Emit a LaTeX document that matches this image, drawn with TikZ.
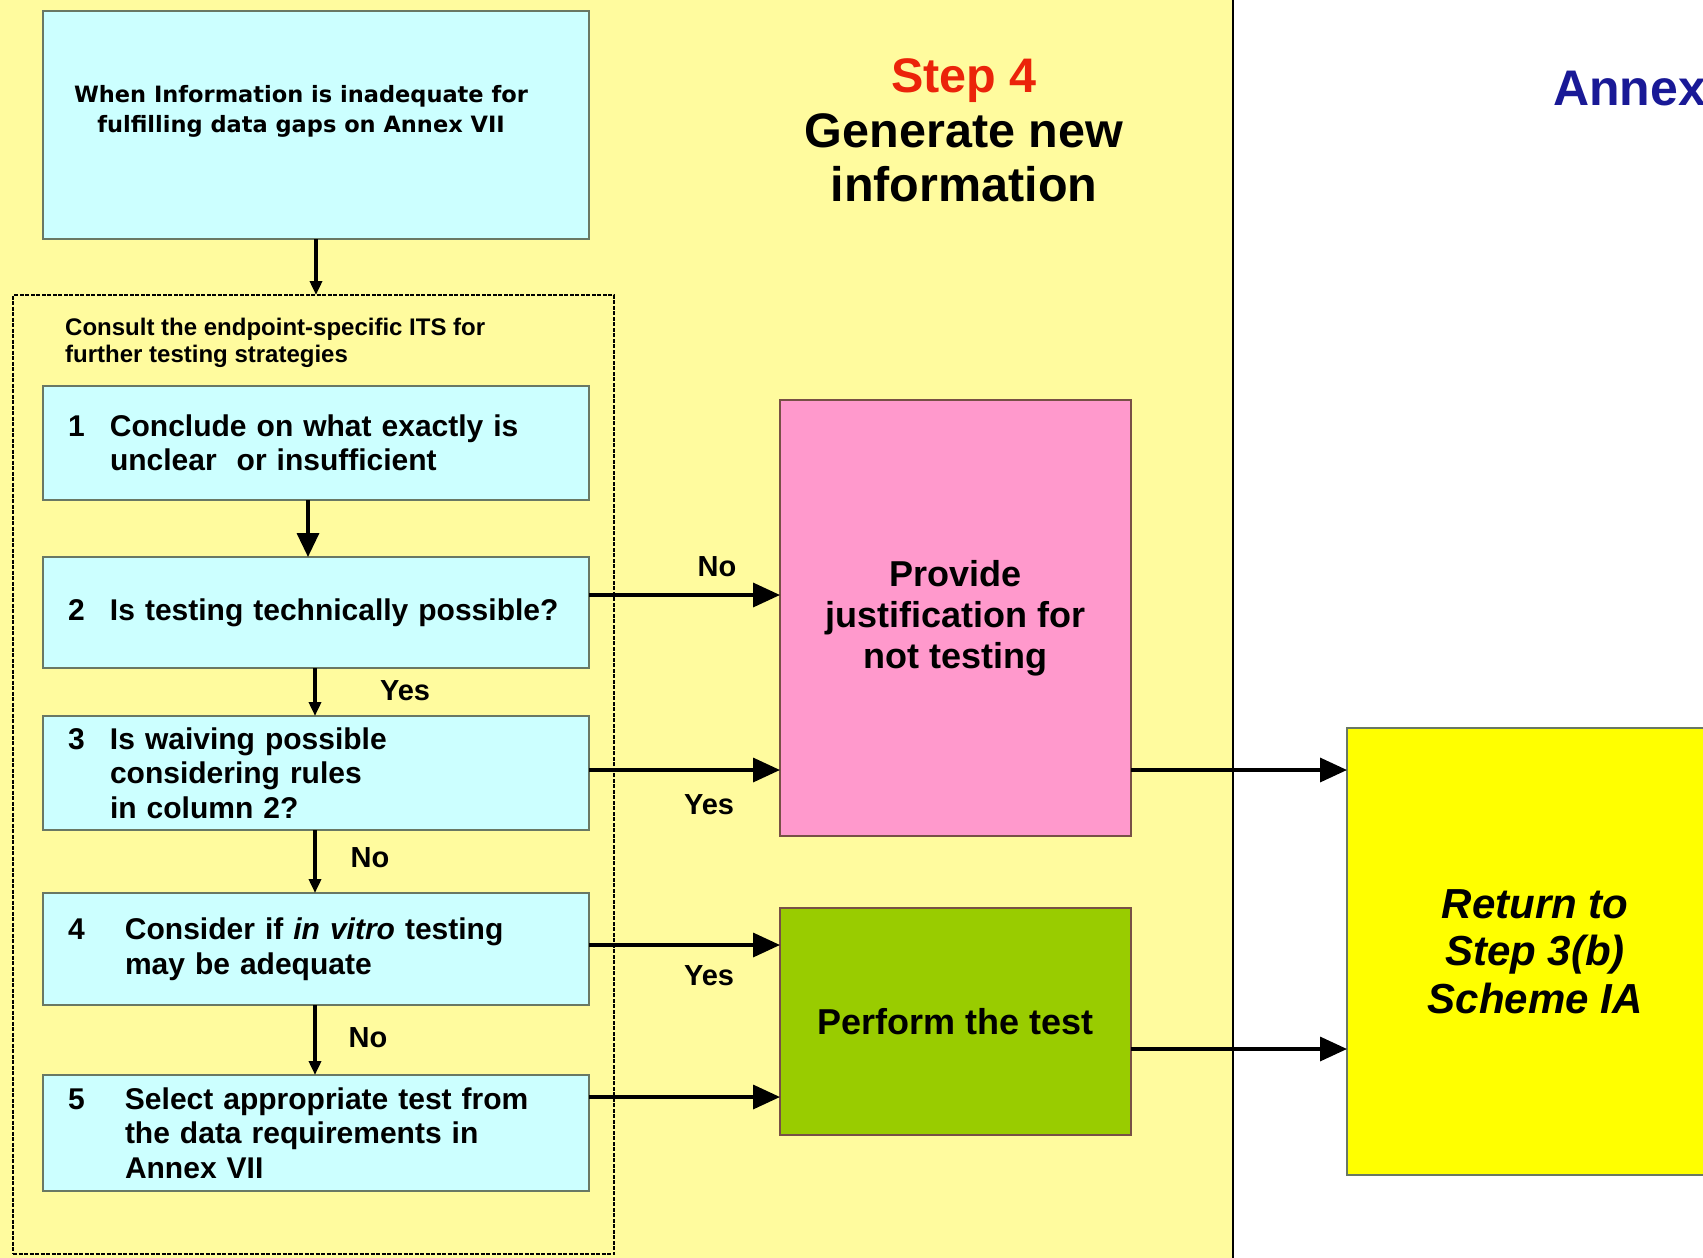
\documentclass[tikz,border=0pt]{standalone}
\usepackage{fontspec}
\setmainfont{Liberation Sans}
\newfontfamily\djv{DejaVu Sans}
\usetikzlibrary{arrows.meta,calc}

\definecolor{bgy}{RGB}{255,251,158}
\definecolor{cyanb}{RGB}{204,255,255}
\definecolor{pinkb}{RGB}{255,153,204}
\definecolor{greenb}{RGB}{153,204,0}
\definecolor{yelb}{RGB}{255,255,0}
\definecolor{redt}{RGB}{235,35,10}
\definecolor{bluet}{RGB}{25,25,150}
\definecolor{edgeb}{RGB}{105,120,100}
\definecolor{edgep}{RGB}{120,80,70}

\newcommand\fsBox{\fontsize{30}{34.5}\selectfont\bfseries}
\newcommand\fsTop{\djv\fontsize{22.5}{30}\selectfont\bfseries}
\newcommand\fsCons{\fontsize{24}{27}\selectfont\bfseries}
\newcommand\fsMid{\fontsize{36}{41}\selectfont\bfseries}
\newcommand\fsRet{\fontsize{42}{47.5}\selectfont\bfseries\itshape}
\newcommand\fsBig{\fontsize{48.5}{54.5}\selectfont\bfseries}
\newcommand\fsAnx{\fontsize{50}{54.5}\selectfont\bfseries}
\newcommand\fsLab{\fontsize{29}{34}\selectfont\bfseries}

\tikzset{
  cbox/.style={draw=edgeb, line width=2pt, fill=cyanb, inner ysep=0pt, inner xsep=25pt, outer sep=0pt,
    minimum width=546pt, text width=496pt, align=left, font=\fsBox},
  bigbox/.style={line width=2pt, outer sep=0pt, inner sep=0pt, align=center},
  lab/.style={font=\fsLab, inner sep=0pt},
  arrbig/.style={line width=3.5pt, -{Triangle[length=27pt,width=24pt]}},
  arrmid/.style={line width=3.5pt, -{Triangle[length=24pt,width=22pt]}},
  arrsm/.style={line width=3.5pt, -{Triangle[length=14pt,width=12pt]}},
}

\begin{document}
\begin{tikzpicture}[x=1pt,y=-1pt]
\useasboundingbox (0,0) rectangle (1703,1258);
\fill[white] (0,0) rectangle (1703,1258);
\fill[bgy] (0,0) rectangle (1233,1258);
\draw[line width=2pt] (1233,0) -- (1233,1258);

% titles
\node[align=center, inner sep=0pt, font=\fsBig] (title) at (964,130.5)
  {\textcolor{redt}{Step 4}\\Generate new\\information};
\node[anchor=west, inner sep=0pt, font=\fsAnx, text=bluet] (annex) at (1553,89) {Annex};

% top box
\node[draw=edgeb, line width=2pt, fill=cyanb, minimum width=546pt, minimum height=228pt,
  inner sep=0pt, outer sep=0pt] (top) at (316,125) {};
\node[align=center, inner sep=0pt, font=\fsTop] (toptext) at (301,111)
  {When Information is inadequate for\\fulfilling data gaps on Annex VII};

% dashed frame
\node[draw, line width=2pt, dash pattern=on 4pt off 1.5pt, minimum width=601pt, minimum height=959pt,
  inner sep=0pt, outer sep=0pt] (frame) at (313.5,774.5) {};
\node[anchor=west, align=left, inner sep=0pt, font=\fsCons] (consult) at (65,342.5)
  {Consult the endpoint-specific ITS for\\further testing strategies};

% step boxes
\node[cbox, minimum height=114pt] (b1) at (316,443)
  {\makebox[42pt][l]{1}\parbox[t]{450pt}{Conclude on what exactly is\\unclear~ or insufficient}};
\node[cbox, minimum height=111pt] (b2) at (316,612.5)
  {\makebox[42pt][l]{2}Is testing technically possible?};
\node[cbox, minimum height=114pt] (b3) at (316,773)
  {\makebox[42pt][l]{3}\parbox[t]{450pt}{Is waiving possible\\considering rules\\in column 2?}};
\node[cbox, minimum height=112pt] (b4) at (316,949)
  {\makebox[57pt][l]{4}\parbox[t]{435pt}{Consider if \textit{in vitro} testing\\may be adequate}};
\node[cbox, minimum height=116pt] (b5) at (316,1133)
  {\makebox[57pt][l]{5}\parbox[t]{435pt}{Select appropriate test from\\the data requirements in\\Annex VII}};

% right boxes
\node[bigbox, draw=edgep, fill=pinkb, minimum width=351pt, minimum height=436pt, font=\fsMid] (pink) at (955.5,618)
  {Provide\\justification for\\not testing};
\node[bigbox, draw=edgep, fill=greenb, minimum width=351pt, minimum height=227pt, font=\fsMid] (green) at (955.5,1021.5)
  {Perform the test};
\node[bigbox, draw=edgeb, fill=yelb, minimum width=376pt, minimum height=447pt, font=\fsRet] (ret) at (1535,951.5)
  {Return to\\Step 3(b)\\Scheme IA};

% vertical arrows
\draw[arrsm] (top.south) -- (top.south |- frame.north);
\draw[arrmid] ([xshift=-8pt]b1.south) -- ([xshift=-8pt]b2.north);
\draw[arrsm] ([xshift=-1pt]b2.south) -- ([xshift=-1pt]b3.north);
\draw[arrsm] ([xshift=-1pt]b3.south) -- ([xshift=-1pt]b4.north);
\draw[arrsm] ([xshift=-1pt]b4.south) -- ([xshift=-1pt]b5.north);

% horizontal arrow anchors
\path ([yshift=17.5pt]b2.east) coordinate (s2);
\path ([yshift=3pt]b3.east) coordinate (s3);
\path ([yshift=4pt]b4.east) coordinate (s4);
\path ([yshift=36pt]b5.east) coordinate (s5);
\path ([yshift=-152pt]pink.east) coordinate (sp);
\path ([yshift=-27.5pt]green.east) coordinate (sg);

\draw[arrbig] (s2) -- (s2 -| pink.west);
\draw[arrbig] (s3) -- (s3 -| pink.west);
\draw[arrbig] (s4) -- (s4 -| green.west);
\draw[arrbig] (s5) -- (s5 -| green.west);
\draw[arrbig] (sp) -- (sp -| ret.west);
\draw[arrbig] (sg) -- (sg -| ret.west);

% labels
\node[lab] (l23) at (405,691) {Yes};
\node[lab] (l34) at (370,858) {No};
\node[lab] (l45) at (368,1038) {No};
\node[lab] (l2p) at (717,567) {No};
\node[lab] (l3p) at (709,805) {Yes};
\node[lab] (l4g) at (709,976) {Yes};
\end{tikzpicture}
\end{document}
